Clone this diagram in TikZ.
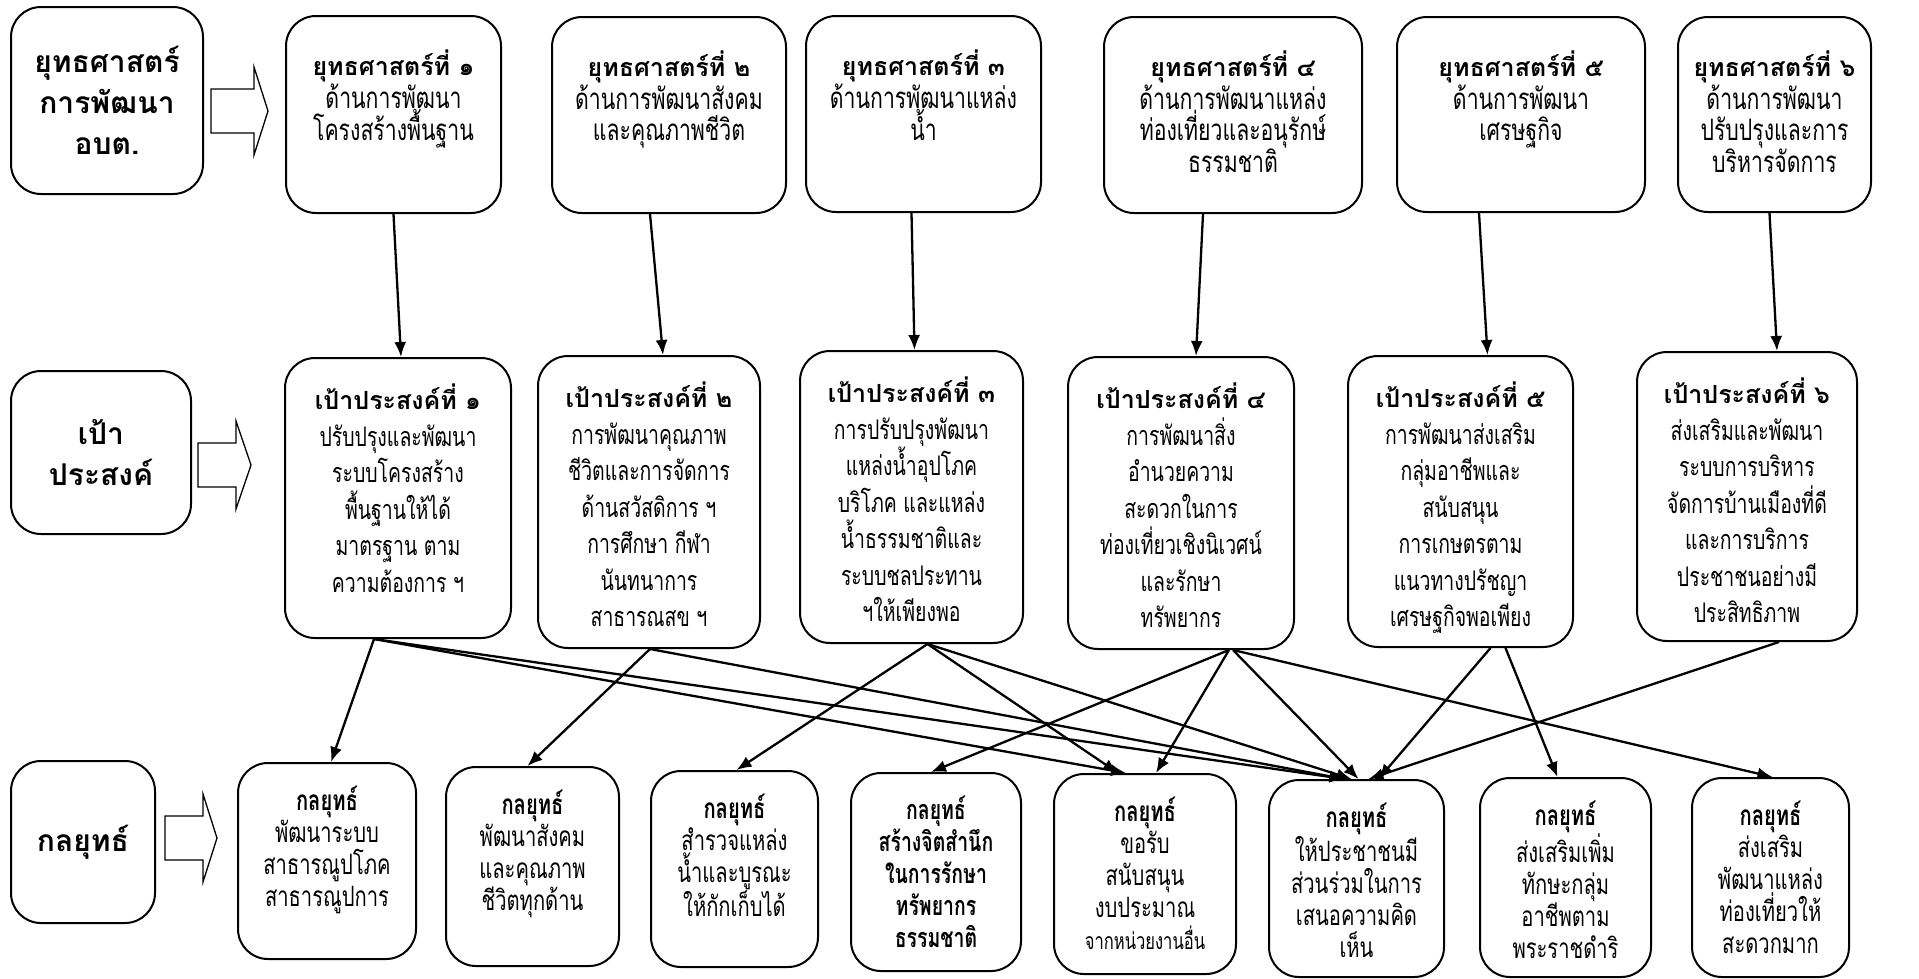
\documentclass[tikz,border=0pt]{standalone}
\usepackage{fontspec}
\newfontfamily\thaifont[Script=Thai]{Loma}
\newfontfamily\thainarrow[Script=Thai,FakeStretch=0.72]{Loma}
\usetikzlibrary{arrows.meta}
\usetikzlibrary{positioning}

\newcommand{\hd}[1]{{\thaifont\bfseries\fontsize{25}{25}\selectfont #1}}

\begin{document}
\begin{tikzpicture}[x=1pt,y=-1pt,
    box/.style={draw,line width=2pt,rounded corners=30pt,anchor=north west,inner sep=0pt},
    lbl/.style={box,align=center,font=\thaifont\bfseries\fontsize{30}{41}\selectfont},
    stxt/.style={align=center,inner sep=0pt,font=\thainarrow\fontsize{29.5}{31}\selectfont},
    gtxt/.style={align=center,inner sep=0pt,font=\thainarrow\fontsize{27}{36.5}\selectfont},
    btxt/.style={align=center,inner sep=0pt,font=\thainarrow\fontsize{28}{32}\selectfont},
    blk/.style={draw,line width=1.3pt,fill=white},
    arr/.style={-{Latex[length=15pt,width=12pt]},line width=2.3pt}]

\useasboundingbox (0,0) rectangle (1919,978);

% row labels
\node[lbl,minimum width=192pt,minimum height=187pt] (plan) at (10,6) {ยุทธศาสตร์\\การพัฒนา\\อบต.};
\node[lbl,minimum width=180pt,minimum height=163pt] (goal) at (10,370) {เป้า\\ประสงค์};
\node[lbl,minimum width=144pt,minimum height=162pt] (tact) at (10,760) {กลยุทธ์};

\draw[blk] (211,89) -- (254,89) -- (254,67) -- (268,111) -- (254,155) -- (254,133) -- (211,133) -- cycle;
\draw[blk] (198,443) -- (236,443) -- (236,421) -- (251,465) -- (236,509) -- (236,487) -- (198,487) -- cycle;
\draw[blk] (165,816) -- (203,816) -- (203,794) -- (217,838) -- (203,882) -- (203,860) -- (165,860) -- cycle;

% strategies
\node[box,minimum width=215pt,minimum height=197pt] (s1) at (285,15) {};
\node[stxt,below=35pt of s1.north] (s1t) {\hd{ยุทธศาสตร์ที่ ๑}\\ด้านการพัฒนา\\โครงสร้างพื้นฐาน};
\node[box,minimum width=234pt,minimum height=196pt] (s2) at (551,16) {};
\node[stxt,below=35pt of s2.north] (s2t) {\hd{ยุทธศาสตร์ที่ ๒}\\ด้านการพัฒนาสังคม\\และคุณภาพชีวิต};
\node[box,minimum width=235pt,minimum height=196pt] (s3) at (805,15) {};
\node[stxt,below=35pt of s3.north] (s3t) {\hd{ยุทธศาสตร์ที่ ๓}\\ด้านการพัฒนาแหล่ง\\น้ำ};
\node[box,minimum width=258pt,minimum height=196pt] (s4) at (1103,16) {};
\node[stxt,below=35pt of s4.north] (s4t) {\hd{ยุทธศาสตร์ที่ ๔}\\ด้านการพัฒนาแหล่ง\\ท่องเที่ยวและอนุรักษ์\\ธรรมชาติ};
\node[box,minimum width=248pt,minimum height=195pt] (s5) at (1396,16) {};
\node[stxt,below=35pt of s5.north] (s5t) {\hd{ยุทธศาสตร์ที่ ๕}\\ด้านการพัฒนา\\เศรษฐกิจ};
\node[box,minimum width=193pt,minimum height=195pt] (s6) at (1677,16) {};
\node[stxt,below=35pt of s6.north] (s6t) {\hd{ยุทธศาสตร์ที่ ๖}\\ด้านการพัฒนา\\ปรับปรุงและการ\\บริหารจัดการ};

% goals
\node[box,minimum width=226pt,minimum height=280pt] (g1) at (284,357) {};
\node[gtxt,below=27pt of g1.north] (g1t) {\hd{เป้าประสงค์ที่ ๑}\\ปรับปรุงและพัฒนา\\ระบบโครงสร้าง\\พื้นฐานให้ได้\\มาตรฐาน ตาม\\ความต้องการ ฯ};
\node[box,minimum width=222pt,minimum height=292pt] (g2) at (537,355) {};
\node[gtxt,below=27pt of g2.north] (g2t) {\hd{เป้าประสงค์ที่ ๒}\\การพัฒนาคุณภาพ\\ชีวิตและการจัดการ\\ด้านสวัสดิการ ฯ\\การศึกษา กีฬา\\นันทนาการ\\สาธารณสข ฯ};
\node[box,minimum width=223pt,minimum height=292pt] (g3) at (799,350) {};
\node[gtxt,below=27pt of g3.north] (g3t) {\hd{เป้าประสงค์ที่ ๓}\\การปรับปรุงพัฒนา\\แหล่งน้ำอุปโภค\\บริโภค และแหล่ง\\น้ำธรรมชาติและ\\ระบบชลประทาน\\ฯให้เพียงพอ};
\node[box,minimum width=226pt,minimum height=292pt] (g4) at (1067,356) {};
\node[gtxt,below=27pt of g4.north] (g4t) {\hd{เป้าประสงค์ที่ ๔}\\การพัฒนาสิ่ง\\อำนวยความ\\สะดวกในการ\\ท่องเที่ยวเชิงนิเวศน์\\และรักษา\\ทรัพยากร};
\node[box,minimum width=225pt,minimum height=291pt] (g5) at (1347,355) {};
\node[gtxt,below=27pt of g5.north] (g5t) {\hd{เป้าประสงค์ที่ ๕}\\การพัฒนาส่งเสริม\\กลุ่มอาชีพและ\\สนับสนุน\\การเกษตรตาม\\แนวทางปรัชญา\\เศรษฐกิจพอเพียง};
\node[box,minimum width=220pt,minimum height=289pt] (g6) at (1636,351) {};
\node[gtxt,below=27pt of g6.north] (g6t) {\hd{เป้าประสงค์ที่ ๖}\\ส่งเสริมและพัฒนา\\ระบบการบริหาร\\จัดการบ้านเมืองที่ดี\\และการบริการ\\ประชาชนอย่างมี\\ประสิทธิภาพ};

% tactics
\node[box,minimum width=178pt,minimum height=196pt] (b1) at (237,762) {};
\node[btxt,below=24pt of b1.north] (b1t) {\textbf{กลยุทธ์}\\พัฒนาระบบ\\สาธารณูปโภค\\สาธารณูปการ};
\node[box,minimum width=173pt,minimum height=199pt] (b2) at (445,766) {};
\node[btxt,below=24pt of b2.north] (b2t) {\textbf{กลยุทธ์}\\พัฒนาสังคม\\และคุณภาพ\\ชีวิตทุกด้าน};
\node[box,minimum width=167pt,minimum height=196pt] (b3) at (650,770) {};
\node[btxt,below=24pt of b3.north] (b3t) {\textbf{กลยุทธ์}\\สำรวจแหล่ง\\น้ำและบูรณะ\\ให้กักเก็บได้};
\node[box,minimum width=170pt,minimum height=198pt] (b4) at (850,772) {};
\node[btxt,font=\thainarrow\bfseries\fontsize{27}{32}\selectfont,below=24pt of b4.north] (b4t) {กลยุทธ์\\สร้างจิตสำนึก\\ในการรักษา\\ทรัพยากร\\ธรรมชาติ};
\node[box,minimum width=182pt,minimum height=200pt] (b5) at (1053,773) {};
\node[btxt,below=24pt of b5.north] (b5t) {\textbf{กลยุทธ์}\\ขอรับ\\สนับสนุน\\งบประมาณ\\{\fontsize{23}{32}\selectfont จากหน่วยงานอื่น}};
\node[box,minimum width=175pt,minimum height=197pt] (b6) at (1268,779) {};
\node[btxt,below=24pt of b6.north] (b6t) {\textbf{กลยุทธ์}\\ให้ประชาชนมี\\ส่วนร่วมในการ\\เสนอความคิด\\เห็น};
\node[box,minimum width=171pt,minimum height=199pt] (b7) at (1479,777) {};
\node[btxt,below=24pt of b7.north] (b7t) {\textbf{กลยุทธ์}\\ส่งเสริมเพิ่ม\\ทักษะกลุ่ม\\อาชีพตาม\\พระราชดำริ};
\node[box,minimum width=157pt,minimum height=199pt] (b8) at (1691,777) {};
\node[btxt,below=24pt of b8.north] (b8t) {\textbf{กลยุทธ์}\\ส่งเสริม\\พัฒนาแหล่ง\\ท่องเที่ยวให้\\สะดวกมาก};

% strategy -> goal
\draw[arr] (s1.south) -- ([xshift=3pt]g1.north);
\draw[arr] ([xshift=-19pt]s2.south) -- ([xshift=14pt]g2.north);
\draw[arr] ([xshift=-12pt]s3.south) -- ([xshift=3pt]g3.north);
\draw[arr] ([xshift=-30pt]s4.south) -- ([xshift=15pt]g4.north);
\draw[arr] ([xshift=-42pt]s5.south) -- ([xshift=27pt]g5.north);
\draw[arr] ([xshift=-5pt]s6.south) -- ([xshift=30pt]g6.north);

% goal -> tactic
\draw[arr] ([xshift=-24pt]g1.south) -- ([xshift=4pt]b1.north);
\draw[arr] ([xshift=-24pt]g1.south) -- ([xshift=-19pt]b5.north);
\draw[arr] ([xshift=-24pt]g1.south) -- ([xshift=-12pt]b6.north);
\draw[arr] ([xshift=1pt]g2.south) -- ([xshift=-5pt]b2.north);
\draw[arr] ([xshift=1pt]g2.south) -- ([xshift=-12pt]b6.north);
\draw[arr] ([xshift=16pt]g3.south) -- ([xshift=2pt]b3.north);
\draw[arr] ([xshift=16pt]g3.south) -- ([xshift=-27pt]b5.north);
\draw[arr] ([xshift=16pt]g3.south) -- ([xshift=-5pt]b6.north);
\draw[arr] ([xshift=48pt]g4.south) -- ([xshift=-5pt]b4.north);
\draw[arr] ([xshift=48pt]g4.south) -- ([xshift=11pt]b5.north);
\draw[arr] ([xshift=52pt]g4.south) -- ([xshift=2pt]b6.north);
\draw[arr] ([xshift=52pt]g4.south) -- ([xshift=2pt]b8.north);
\draw[arr] ([xshift=30pt]g5.south) -- ([xshift=22pt]b6.north);
\draw[arr] ([xshift=45pt]g5.south) -- ([xshift=-8pt]b7.north);
\draw[arr] ([xshift=32pt]g6.south) -- ([xshift=12pt]b6.north);
\end{tikzpicture}
\end{document}
